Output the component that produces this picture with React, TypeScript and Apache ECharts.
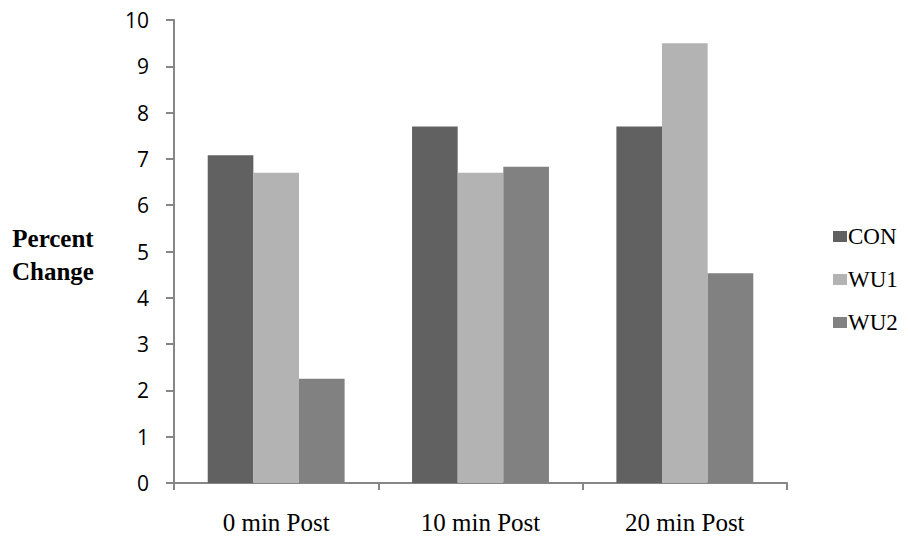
import React, { useEffect, useRef } from "react";
import * as echarts from "echarts";

const categories = ["0 min Post", "10 min Post", "20 min Post"];
const seriesNames = ["CON", "WU1", "WU2"];
const conValues = [7.08, 7.7, 7.7];
const wu1Values = [6.7, 6.7, 9.5];
const wu2Values = [2.25, 6.83, 4.53];
const yTicks = [0, 1, 2, 3, 4, 5, 6, 7, 8, 9, 10];
const yAxisTitle = "Percent\nChange";

const colors = ["#616161", "#b3b3b3", "#818181"];
const axisColor = "#868686";
const serif = "'Liberation Serif', 'Times New Roman', Times, serif";

export default function App() {
  const ref = useRef<HTMLDivElement>(null);
  useEffect(() => {
    if (!ref.current) return;
    const chart = echarts.init(ref.current, undefined, { renderer: "svg" });
    const values = [conValues, wu1Values, wu2Values];
    chart.setOption({
      animation: false,
      backgroundColor: "#ffffff",
      color: colors,
      grid: { left: 174, right: 121, top: 20, bottom: 57, containLabel: false },
      legend: {
        orient: "vertical",
        left: 828,
        top: 220,
        itemWidth: 14,
        itemHeight: 11,
        itemGap: 20,
        icon: "rect",
        data: seriesNames,
        textStyle: {
          fontFamily: serif,
          fontSize: 23,
          color: "#000",
          padding: [0, 0, 0, -4],
        },
      },
      xAxis: {
        type: "category",
        data: categories,
        axisLine: { lineStyle: { color: axisColor, width: 2 } },
        axisTick: { show: true, length: 7, lineStyle: { color: axisColor, width: 2 } },
        axisLabel: {
          fontFamily: serif,
          fontSize: 25,
          color: "#000",
          margin: 27,
        },
      },
      yAxis: {
        type: "value",
        min: yTicks[0],
        max: yTicks[yTicks.length - 1],
        interval: 1,
        axisLine: { show: true, lineStyle: { color: axisColor, width: 2 } },
        axisTick: { show: true, length: 8, lineStyle: { color: axisColor, width: 2 } },
        splitLine: { show: false },
        axisLabel: {
          fontFamily: "'Open Sans', sans-serif",
          fontSize: 21,
          color: "#000",
          margin: 25,
        },
      },
      graphic: [
        {
          type: "text",
          left: 12,
          top: 222,
          style: {
            text: yAxisTitle,
            fontFamily: serif,
            fontWeight: "bold",
            fontSize: 25,
            lineHeight: 33,
            fill: "#000",
            textAlign: "center",
          },
        },
      ],
      series: seriesNames.map((name, i) => ({
        name,
        type: "bar",
        data: values[i],
        barGap: "0%",
        barCategoryGap: "33%",
        itemStyle: { color: colors[i] },
      })),
    });
    return () => chart.dispose();
  }, []);
  return <div ref={ref} style={{ width: 908, height: 540, position: "absolute", left: 0, top: 0 }} />;
}
